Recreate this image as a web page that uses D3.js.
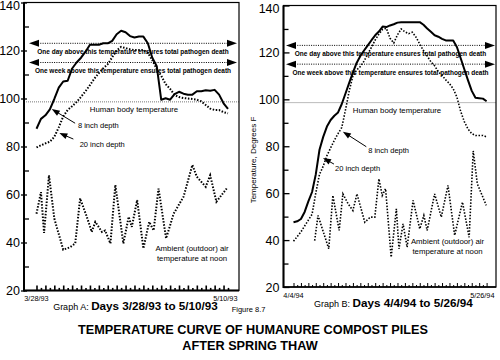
<!DOCTYPE html>
<html><head><meta charset="utf-8">
<script src="https://cdn.jsdelivr.net/npm/d3@7"></script>
<style>
body{margin:0;background:#fff}
svg{display:block}
text{font-family:"Liberation Sans",Arial,Helvetica,sans-serif;fill:#000}
</style>
</head><body>
<svg id="c" width="500" height="360"></svg>
<script>
// ---------------- data ----------------
const yTicks = [20, 40, 60, 80, 100, 120, 140];
const yMinorTicks = [30, 50, 70, 90, 110, 130];
const thresholds = [123, 115];
const thresholdLabels = [
  "One day above this temperature ensures total pathogen death",
  "One week above this temperature ensures total pathogen death"
];
const bodyTemp = 98.6;
const bodyLabel = "Human body temperature";

// Graph A: 3/28/93 .. 5/10/93 (day index 0..43)
const xLabelsA = ["3/28/93", "5/10/93"];
const depth8A = [87.4,91.5,93,95.5,99.8,104.5,107.1,107.4,112.5,115,117,119.5,122.4,122.4,122.4,123,123,124,126.8,128.2,127.6,126,125.4,125.8,125.8,123,117,113.5,99.5,100.1,99.5,101.8,102.8,102,101.6,101.6,103,103,103.4,103.2,103.6,101.6,98,95.7];
const depth20A = [79.6,80.5,81.3,82,84,88,92.5,95.2,96.8,98.5,100.7,103,105.6,108.3,110.6,112.6,114.3,117.2,120,121.5,121,120.5,120.2,120.2,120.2,119,116,112.3,109.5,106,104,101.5,100.6,100.2,100,99.8,99.5,98.8,97.3,95.8,95.2,95.2,94.3,93.8];
const ambientDaysA = [0,1,1.7,2.8,4,6,7.5,8.7,9.8,11.3,12.4,13.2,14.7,15.4,16.6,17.7,19.5,20.7,21.4,22.6,24,25.3,26.3,27.4,29.1,30.8,33,35,36,38,39,40.4,42.7];
const ambientA = [52,61,44,68,50,37,38,39.6,58.4,50.7,44.4,48.6,44.4,45,39.6,64,39.6,50.7,46.5,57.7,37.5,48.6,45,62.5,41.7,52,59,72.3,67.4,63.2,68,57,62.5];

// Graph B: 4/4/94 .. 5/26/94 (day index 0..52)
const xLabelsB = ["4/4/94", "5/26/94"];
const depth8B = [47.6,48,49,52,56.5,60.5,68,78.5,84,88.4,91.2,93,94.4,98,102.5,107,111.4,115.5,118.5,120.8,123,125.2,127.3,128.9,131,130.8,131.5,132,132.7,132.9,132.9,132.9,132.9,132.9,132.9,131.8,130.2,128.8,127.3,126.7,125.8,125.1,125.1,125.1,122.3,117.6,112.8,108.1,103.6,100.7,100.5,100.3,99.2];
const depth20B = [39.5,41.5,43.5,46,48.5,51,60,68,71.5,76,79.3,82.5,85.4,88,95.5,103.5,110,112.5,114,116.3,119.3,122.2,125.3,127.8,129.8,130.3,126,124,127.5,130,128.8,128,128.6,126.5,123.5,120.8,118.5,116,114.3,111.8,110.2,108.3,106.7,104.5,101,95,90.5,87.3,85.4,84.6,84.6,84.6,84];
const ambientDaysB = [5.7,6.6,9.5,10.6,12.3,13.3,14.7,16,17.1,19.2,20.7,21.9,23,23.9,24.8,26.3,27.7,28.4,29.5,30.6,32.2,34,35.1,36,38,39.8,41.6,43.4,45.5,47.3,48.4,49.5,51.9];
const ambientB = [39.8,50.5,36.3,59,44.1,59.7,55.5,52.6,59.7,47.6,49.8,49.8,66.1,59,61.9,32.7,53.3,36.3,46.9,37,56.9,44.8,50.5,44.1,59.7,49.8,63.3,42,56.2,41.2,78,64,54.8];

// ---------------- drawing ----------------
const svg = d3.select("#c");
const FONT = '"Liberation Sans",Arial,Helvetica,sans-serif';

function arrowHead(g, tipX, tipY, dir, len, half) {
  const [ux, uy] = dir;
  const bx = tipX - ux * len, by = tipY - uy * len;
  const px = -uy * half, py = ux * half;
  g.append("path")
    .attr("d", `M${tipX},${tipY}L${bx + px},${by + py}L${bx - px},${by - py}Z`)
    .attr("fill", "#000");
}

function drawPanel(cfg) {
  const x = d3.scaleLinear().domain([0, cfg.nDays]).range(cfg.xRange);
  const y = d3.scaleLinear().domain([20, 140]).range(cfg.yRange);
  const g = svg.append("g");
  const top = y(140), bottom = y(20);

  // body temperature line
  g.append("line")
    .attr("x1", cfg.left).attr("x2", cfg.right)
    .attr("y1", y(bodyTemp)).attr("y2", y(bodyTemp))
    .attr("stroke", "#555").attr("stroke-width", 0.8)
    .attr("stroke-dasharray", "1,1");
  g.append("text")
    .attr("x", cfg.bodyLabelX).attr("y", y(bodyTemp) + 10.5)
    .attr("text-anchor", "middle").attr("font-size", 7.8)
    .text(bodyLabel);

  // threshold lines with double arrows
  thresholds.forEach((t, i) => {
    const yy = y(t);
    g.append("line")
      .attr("x1", cfg.arrowL + 9).attr("x2", cfg.arrowR - 9)
      .attr("y1", yy).attr("y2", yy)
      .attr("stroke", "#000").attr("stroke-width", 1)
      .attr("stroke-dasharray", "1,1.3");
    arrowHead(g, cfg.arrowL, yy, [-1, 0], 10, 3.5);
    arrowHead(g, cfg.arrowR, yy, [1, 0], 10, 3.5);
    g.append("text")
      .attr("x", (cfg.arrowL + cfg.arrowR) / 2).attr("y", yy + 10.5)
      .attr("text-anchor", "middle").attr("font-size", 6.5)
      .attr("font-weight", "bold")
      .text(thresholdLabels[i]);
  });

  // series
  const lineIdx = d3.line().x((d, i) => x(i)).y(d => y(d));
  g.append("path").datum(cfg.d20).attr("d", lineIdx)
    .attr("fill", "none").attr("stroke", "#000")
    .attr("stroke-width", cfg.dotW).attr("stroke-dasharray", "1.5,1.6");
  const amb = cfg.ambDays.map((d, i) => [d, cfg.amb[i]]);
  g.append("path").datum(amb)
    .attr("d", d3.line().x(d => x(d[0])).y(d => y(d[1])))
    .attr("fill", "none").attr("stroke", "#000")
    .attr("stroke-width", cfg.dotW).attr("stroke-dasharray", "1.5,1.6");
  g.append("path").datum(cfg.d8).attr("d", lineIdx)
    .attr("fill", "none").attr("stroke", "#000")
    .attr("stroke-width", 2).attr("stroke-linejoin", "round");

  // annotation arrows
  cfg.notes.forEach(n => {
    const tx = x(n.tip[0]), ty = y(n.tip[1]);
    const sx = x(n.tail[0]), sy = y(n.tail[1]);
    const L = Math.hypot(tx - sx, ty - sy);
    const u = [(tx - sx) / L, (ty - sy) / L];
    g.append("line").attr("x1", sx).attr("y1", sy)
      .attr("x2", tx - u[0] * 6).attr("y2", ty - u[1] * 6)
      .attr("stroke", "#000").attr("stroke-width", 1);
    arrowHead(g, tx, ty, u, 8, 3);
    g.append("text").attr("x", x(n.label[0])).attr("y", y(n.label[1]))
      .attr("font-size", 7.5).text(n.text);
  });

  // ambient label
  cfg.ambLabel.forEach((s, i) => {
    g.append("text").attr("x", cfg.ambLabelX).attr("y", cfg.ambLabelY + i * 10)
      .attr("text-anchor", "middle").attr("font-size", 7.8).text(s);
  });

  // frame
  g.append("rect").attr("x", cfg.left).attr("y", top)
    .attr("width", cfg.right - cfg.left).attr("height", bottom - top)
    .attr("fill", "none").attr("stroke", "#000").attr("stroke-width", 1.2);
  g.append("line").attr("x1", cfg.left).attr("x2", cfg.left)
    .attr("y1", top).attr("y2", bottom + 1)
    .attr("stroke", "#000").attr("stroke-width", 2);
  g.append("line").attr("x1", cfg.left).attr("x2", cfg.right)
    .attr("y1", bottom).attr("y2", bottom)
    .attr("stroke", "#000").attr("stroke-width", cfg.bottomW);

  // y axis: labels + inner major ticks
  const ya = g.append("g").attr("transform", `translate(${cfg.left},0)`)
    .call(d3.axisLeft(y).tickValues(yTicks).tickSizeInner(-cfg.majorIn)
      .tickSizeOuter(0).tickPadding(cfg.labelPad));
  if (cfg.majorOut > 0) {
    g.append("g").attr("transform", `translate(${cfg.left},0)`)
      .call(d3.axisLeft(y).tickValues(yTicks).tickSizeInner(cfg.majorOut)
        .tickSizeOuter(0).tickFormat(""))
      .call(s => s.select(".domain").remove());
  }
  g.append("g").attr("transform", `translate(${cfg.left},0)`)
    .call(d3.axisLeft(y).tickValues(yMinorTicks).tickSizeInner(-5)
      .tickSizeOuter(0).tickFormat(""))
    .call(s => s.select(".domain").remove());
  ya.select(".domain").remove();
  ya.selectAll("text").attr("font-size", 12.5).attr("font-family", FONT).attr("fill", "#000")
    .attr("dy", d => d === 140 ? "0.55em" : "0.34em");
  g.selectAll(".tick line").attr("stroke", "#000").attr("stroke-width", 1.3);

  // x axis: daily ticks, alternating tall/short
  const tall = d3.range(0, cfg.nDays + 1, 2);
  const short = d3.range(1, cfg.nDays + 1, 2);
  [[tall, -cfg.tickTall], [short, -cfg.tickShort]].forEach(([vals, sz]) => {
    g.append("g").attr("transform", `translate(0,${bottom})`)
      .call(d3.axisBottom(x).tickValues(vals).tickSizeInner(sz)
        .tickSizeOuter(0).tickFormat(""))
      .call(s => s.select(".domain").remove())
      .call(s => s.selectAll(".tick line").attr("stroke", "#000")
        .attr("stroke-width", cfg.xTickW));
  });
  g.append("text").attr("x", x(0)).attr("y", cfg.xLabelY)
    .attr("text-anchor", "middle").attr("font-size", 7.3).text(cfg.xLabels[0]);
  g.append("text").attr("x", cfg.right - 1.5).attr("y", cfg.xLabelY)
    .attr("text-anchor", "end").attr("font-size", 7.3).text(cfg.xLabels[1]);
}

drawPanel({
  nDays: 43, xRange: [36.5, 228], yRange: [290.5, 2.5],
  left: 24, right: 239, arrowL: 29, arrowR: 237, bodyLabelX: 134,
  d8: depth8A, d20: depth20A, ambDays: ambientDaysA, amb: ambientA,
  dotW: 2, bottomW: 2, majorIn: 3, majorOut: 3, labelPad: 4,
  tickTall: 5, tickShort: 2.6, xTickW: 1.6, xLabels: xLabelsA, xLabelY: 301,
  ambLabel: ["Ambient (outdoor) air", "temperature at noon"], ambLabelX: 192, ambLabelY: 250.5,
  notes: [
    {tip: [3.42, 95.6], tail: [8.67, 89.7], label: [9.3, 87.6], text: "8 inch depth"},
    {tip: [5.13, 85.6], tail: [8.28, 83.1], label: [9.7, 80], text: "20 inch depth"}
  ]
});

drawPanel({
  nDays: 52, xRange: [293.5, 486.6], yRange: [287, 5.5],
  left: 283.5, right: 496, arrowL: 286, arrowR: 495, bodyLabelX: 397,
  d8: depth8B, d20: depth20B, ambDays: ambientDaysB, amb: ambientB,
  dotW: 1.6, bottomW: 1.6, majorIn: 6, majorOut: 0, labelPad: 4,
  tickTall: 4, tickShort: 2, xTickW: 1, xLabels: xLabelsB, xLabelY: 298,
  ambLabel: ["Ambient (outdoor) air", "temperature at noon"], ambLabelX: 447.5, ambLabelY: 243.5,
  notes: [
    {tip: [13.3, 86.2], tail: [19.6, 79.8], label: [20.1, 77.1], text: "8 inch depth"},
    {tip: [7.95, 75], tail: [10.9, 72.4], label: [11.2, 69.6], text: "20 inch depth"}
  ]
});

// y-axis title between panels
svg.append("text").attr("transform", "translate(255.5,160) rotate(-90)")
  .attr("text-anchor", "middle").attr("font-size", 8)
  .text("Temperature, Degrees F");

// captions
const capA = svg.append("text").attr("x", 135.5).attr("y", 310).attr("text-anchor", "middle");
capA.append("tspan").attr("font-size", 9).text("Graph A: ");
capA.append("tspan").attr("font-size", 11.7).attr("font-weight", "bold").text("Days 3/28/93 to 5/10/93");
const capB = svg.append("text").attr("x", 393.3).attr("y", 306.5).attr("text-anchor", "middle");
capB.append("tspan").attr("font-size", 9).text("Graph B: ");
capB.append("tspan").attr("font-size", 11.7).attr("font-weight", "bold").text("Days 4/4/94 to 5/26/94");
svg.append("text").attr("x", 231.7).attr("y", 311.5).attr("font-size", 7.5).text("Figure 8.7");

svg.append("text").attr("x", 253).attr("y", 333.5).attr("text-anchor", "middle")
  .attr("font-size", 12.7).attr("font-weight", "bold")
  .text("TEMPERATURE CURVE OF HUMANURE COMPOST PILES");
svg.append("text").attr("x", 250).attr("y", 350).attr("text-anchor", "middle")
  .attr("font-size", 12.7).attr("font-weight", "bold")
  .text("AFTER SPRING THAW");
</script>
</body></html>
